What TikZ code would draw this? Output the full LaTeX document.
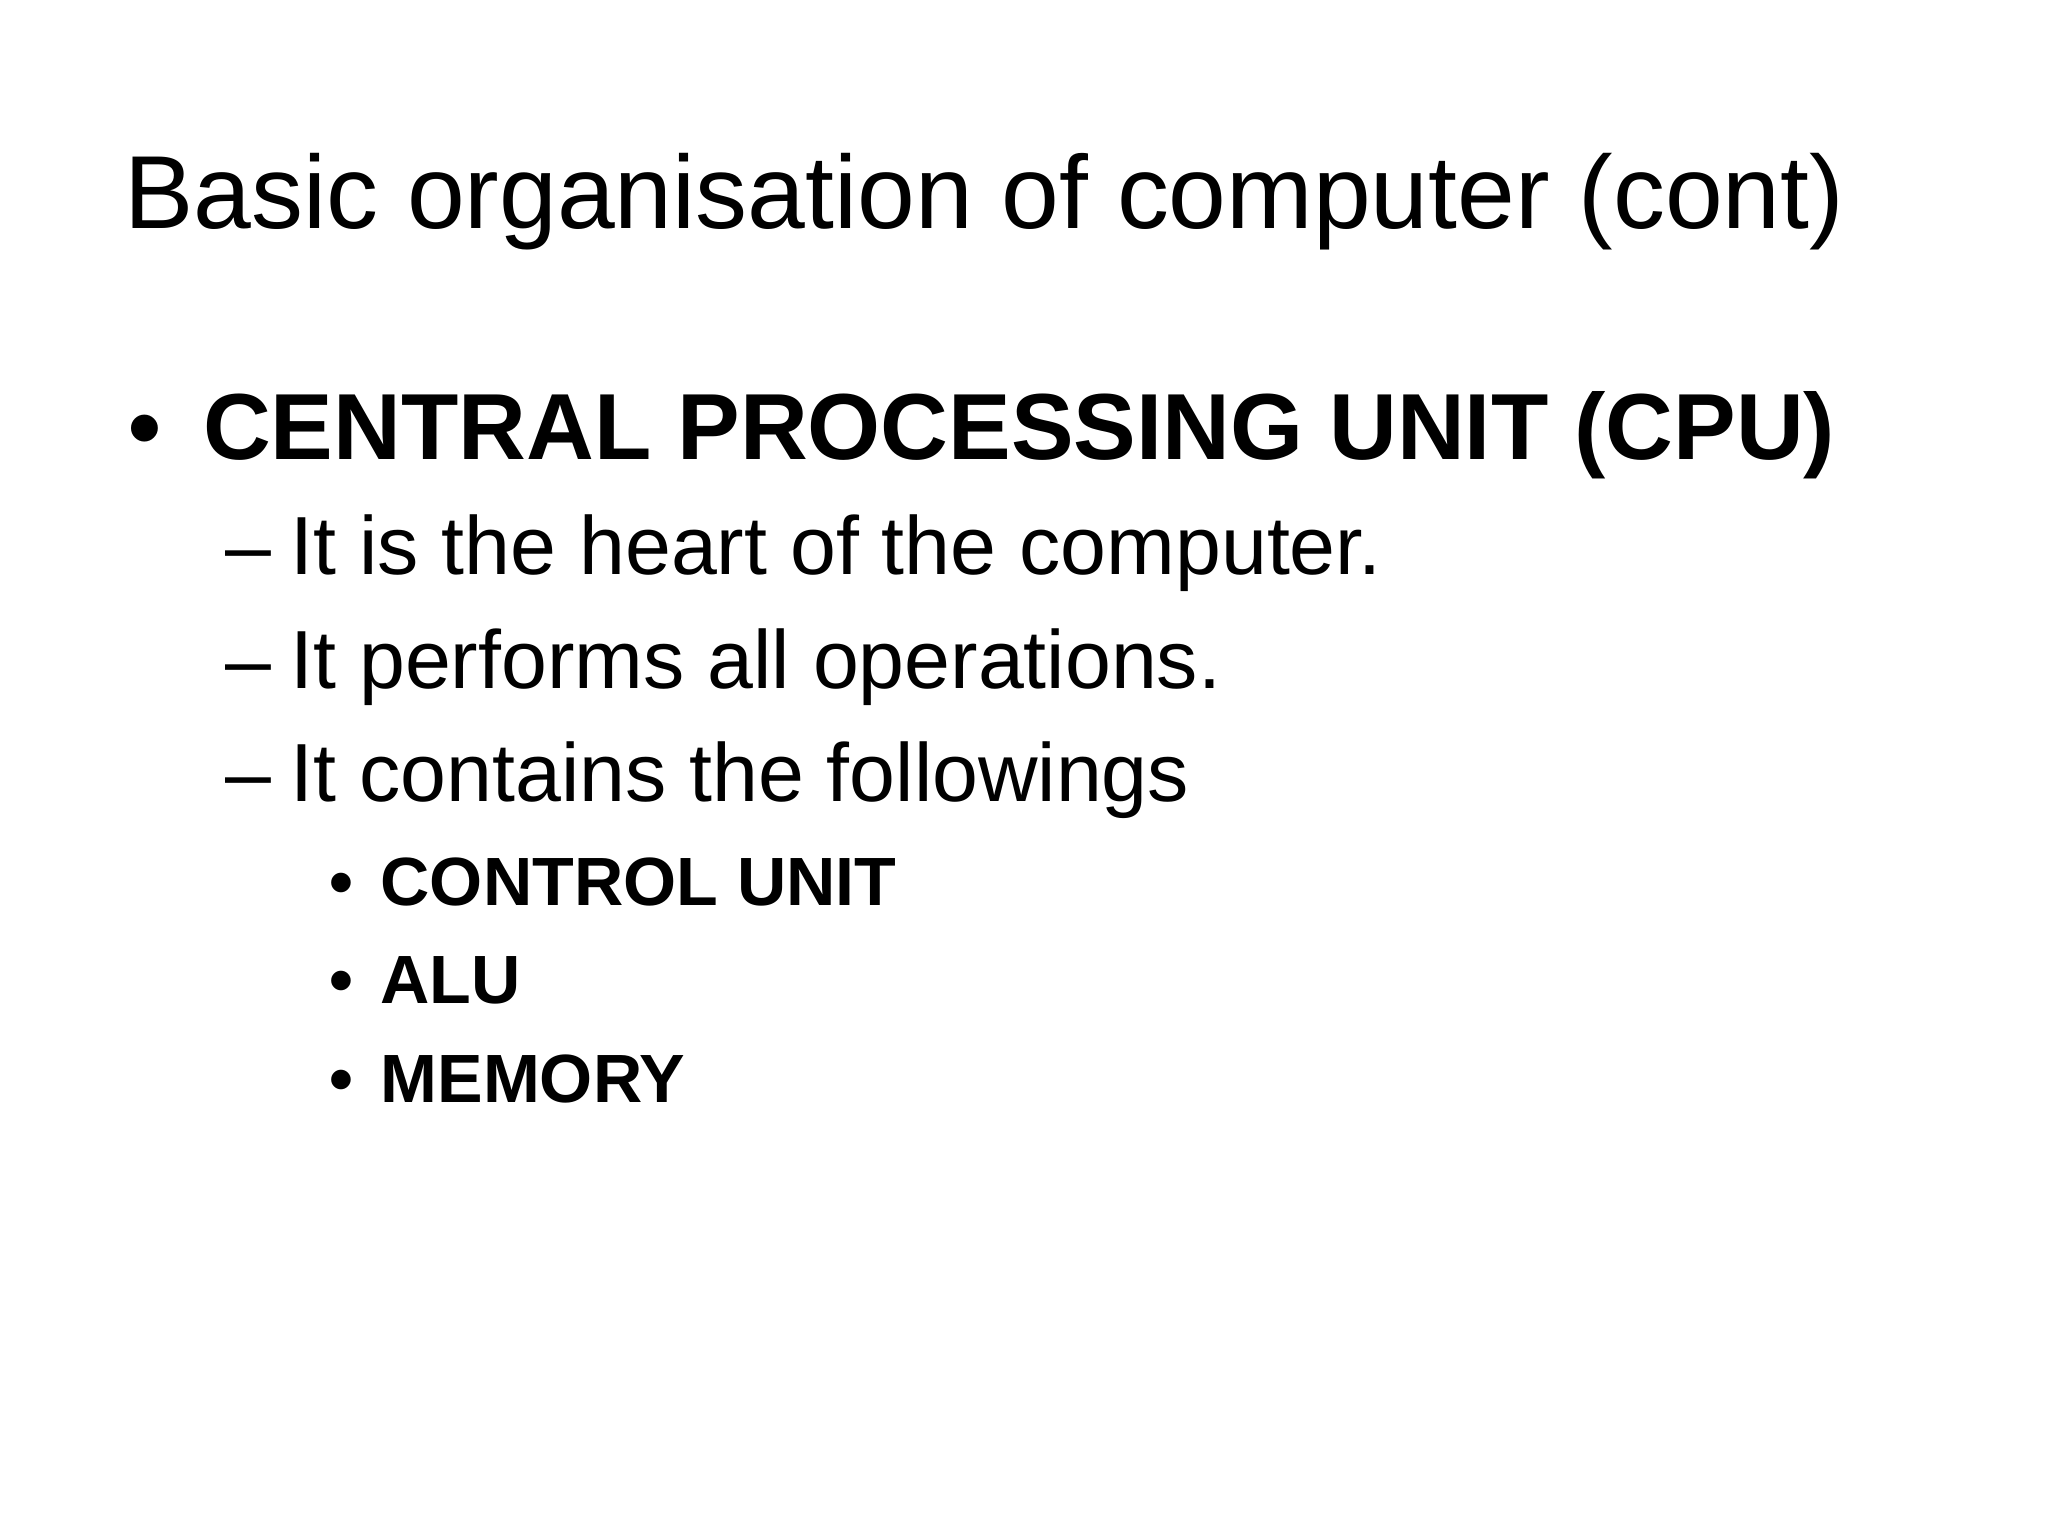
\documentclass[tikz,border=0pt]{standalone}
\usepackage{fontspec}
\setmainfont{Liberation Sans}
\begin{document}
\begin{tikzpicture}[x=0.4592pt,y=-0.4592pt,
  txt/.style={anchor=base west,inner sep=0pt},
  t1/.style={txt,font=\fontsize{36.5}{40}\selectfont},
  t2/.style={txt,font=\fontsize{33}{38}\selectfont\bfseries},
  t3/.style={txt,font=\fontsize{29}{34}\selectfont},
  t4/.style={txt,font=\fontsize{24}{28}\selectfont\bfseries}]
\useasboundingbox[fill=white] (0,0) rectangle (1568,1176);
\node[t1] (title) at (95,175) {Basic organisation of computer (cont)};
\node[t2] (b1) at (98,352) {•};
\node[t2] (cpu) at (155,352) {CENTRAL PROCESSING UNIT (CPU)};
\node[t3] (d1) at (172,440) {–};
\node[t3] (s1) at (222,440) {It is the heart of the computer.};
\node[t3] (d2) at (172,527) {–};
\node[t3] (s2) at (222,527) {It performs all operations.};
\node[t3] (d3) at (172,614) {–};
\node[t3] (s3) at (222,614) {It contains the followings};
\node[t4] (e1) at (252,693) {•};
\node[t4] (i1) at (291,693) {CONTROL UNIT};
\node[t4] (e2) at (252,768) {•};
\node[t4] (i2) at (291,768) {ALU};
\node[t4] (e3) at (252,844) {•};
\node[t4] (i3) at (291,844) {MEMORY};
\end{tikzpicture}
\end{document}
